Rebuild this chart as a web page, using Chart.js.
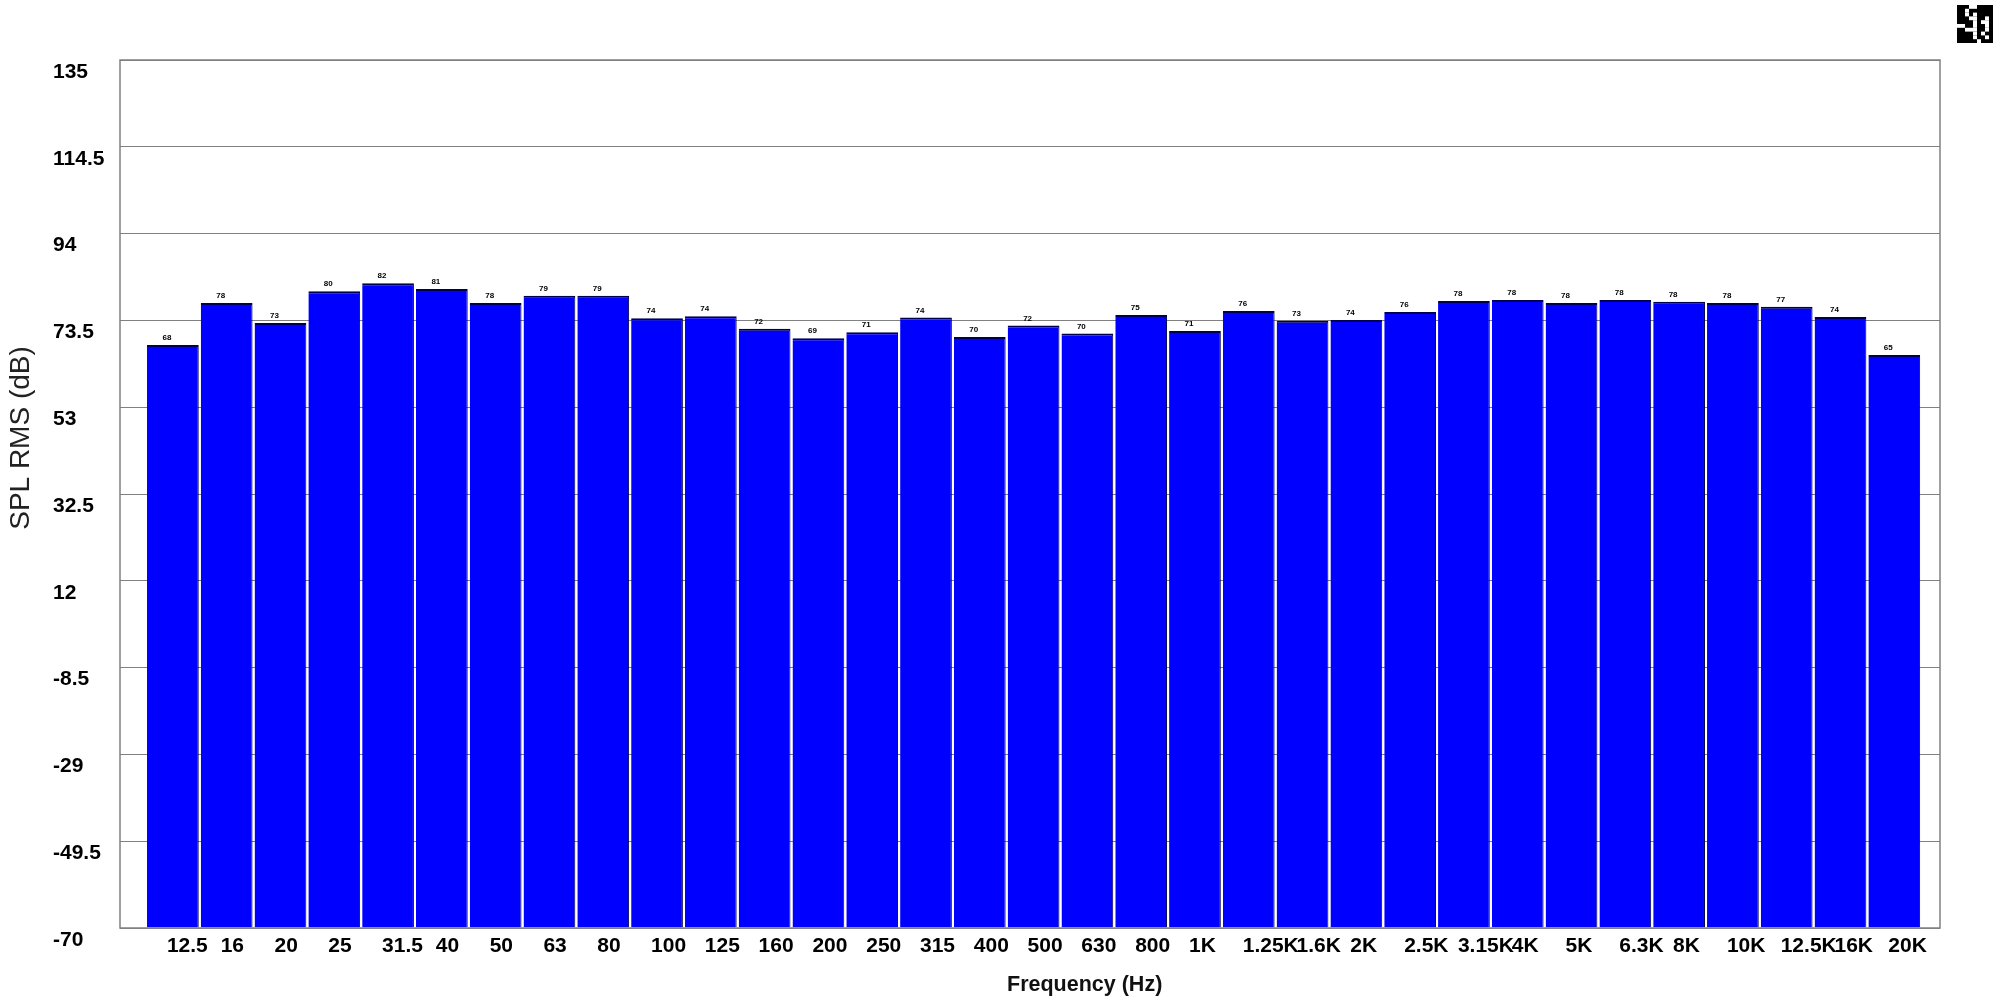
<!DOCTYPE html>
<html>
<head>
<meta charset="utf-8">
<title>SPL RMS</title>
<script src="https://cdn.jsdelivr.net/npm/chart.js@4"></script>
<style>
  html, body { margin: 0; padding: 0; background: #fff; }
  canvas { display: block; }
</style>
</head>
<body>
<canvas id="chart" width="2000" height="1000"></canvas>
<script>
const freqLabels = ['12.5', '16', '20', '25', '31.5', '40', '50', '63', '80', '100', '125', '160', '200', '250', '315', '400', '500', '630', '800', '1K', '1.25K', '1.6K', '2K', '2.5K', '3.15K', '4K', '5K', '6.3K', '8K', '10K', '12.5K', '16K', '20K'];
const splValues = [67.7, 77.6, 72.9, 80.4, 82.3, 80.9, 77.6, 79.3, 79.3, 74.0, 74.5, 71.5, 69.3, 70.7, 74.2, 69.6, 72.3, 70.4, 74.8, 71.0, 75.7, 73.4, 73.6, 75.5, 78.1, 78.3, 77.6, 78.3, 77.9, 77.6, 76.7, 74.3, 65.3];
const valueLabels = ['68', '78', '73', '80', '82', '81', '78', '79', '79', '74', '74', '72', '69', '71', '74', '70', '72', '70', '75', '71', '76', '73', '74', '76', '78', '78', '78', '78', '78', '78', '77', '74', '65'];
const yMin = -70;
const yMax = 135;
const yStep = 20.5;

// little black stamp in the top right corner, 1 = white cell
const stamp = [
  '000110000',
  '001000000',
  '001010000',
  '000110010',
  '000010110',
  '110010010',
  '001110010',
  '000010100',
  '000010010',
  '000001000'
];

const extras = {
  id: 'extras',
  afterDatasetsDraw(chart) {
    const ctx = chart.ctx;
    const area = chart.chartArea;
    ctx.save();

    // plot frame goes over the feet of the bars
    ctx.strokeStyle = '#808080';
    ctx.lineWidth = 1.5;
    ctx.strokeRect(area.left, area.top, area.right - area.left, area.bottom - area.top);

    // value above each bar
    ctx.fillStyle = '#000';
    ctx.font = 'bold 8px "Liberation Sans"';
    ctx.textAlign = 'center';
    ctx.textBaseline = 'middle';
    chart.getDatasetMeta(0).data.forEach((bar, i) => {
      ctx.fillText(valueLabels[i], bar.x - 6, bar.y - 7);
    });

    // axis titles sit off centre in the original
    ctx.fillStyle = '#111';
    ctx.font = 'bold 21.5px "Liberation Sans"';
    ctx.textAlign = 'left';
    ctx.textBaseline = 'alphabetic';
    ctx.fillText('Frequency (Hz)', 1007, 991);

    ctx.save();
    ctx.translate(29, 438);
    ctx.rotate(-Math.PI / 2);
    ctx.font = '28px "Liberation Sans"';
    ctx.textAlign = 'center';
    ctx.fillStyle = '#222';
    ctx.fillText('SPL RMS (dB)', 0, 0);
    ctx.restore();

    ctx.fillStyle = '#000';
    ctx.fillRect(1957, 5, 36, 38);
    ctx.fillStyle = '#fff';
    stamp.forEach((row, r) => {
      [...row].forEach((cell, c) => {
        if (cell === '1') ctx.fillRect(1957 + c * 4, 5 + r * 3.8, 4, 3.8);
      });
    });
    ctx.restore();
  }
};

new Chart(document.getElementById('chart'), {
  type: 'bar',
  data: {
    datasets: [{
      data: splValues.map((v, i) => ({ x: i, y: v })),
      base: yMin,
      backgroundColor: '#0000ff',
      borderColor: '#000050',
      borderWidth: { top: 2, right: 1, bottom: 0, left: 0 },
      borderSkipped: false,
      categoryPercentage: 1,
      barPercentage: 0.962
    }]
  },
  options: {
    responsive: false,
    animation: false,
    layout: { padding: { left: 53, top: 60, right: 60, bottom: 0 } },
    plugins: { legend: { display: false }, tooltip: { enabled: false } },
    scales: {
      x: {
        type: 'linear',
        offset: false,
        min: -0.983,
        max: 32.85,
        grid: { display: false },
        border: { display: false },
        afterBuildTicks: scale => { scale.ticks = freqLabels.map((_, i) => ({ value: i })); },
        afterFit: scale => { scale.height = 72; },
        ticks: {
          callback: value => freqLabels[value],
          autoSkip: false,
          maxRotation: 0,
          minRotation: 0,
          align: 'start',
          labelOffset: -6,
          padding: -2,
          color: '#000',
          font: { family: '"Liberation Sans"', size: 21, weight: 'bold' }
        }
      },
      y: {
        min: yMin,
        max: yMax,
        grid: { color: '#808080', lineWidth: 1, drawTicks: false },
        border: { display: false },
        afterFit: scale => { scale.width = 67; },
        ticks: {
          stepSize: yStep,
          callback: value => String(value),
          crossAlign: 'far',
          labelOffset: 12,
          padding: 0,
          color: '#000',
          font: { family: '"Liberation Sans"', size: 21, weight: 'bold' }
        }
      }
    }
  },
  plugins: [extras]
});
</script>
</body>
</html>
